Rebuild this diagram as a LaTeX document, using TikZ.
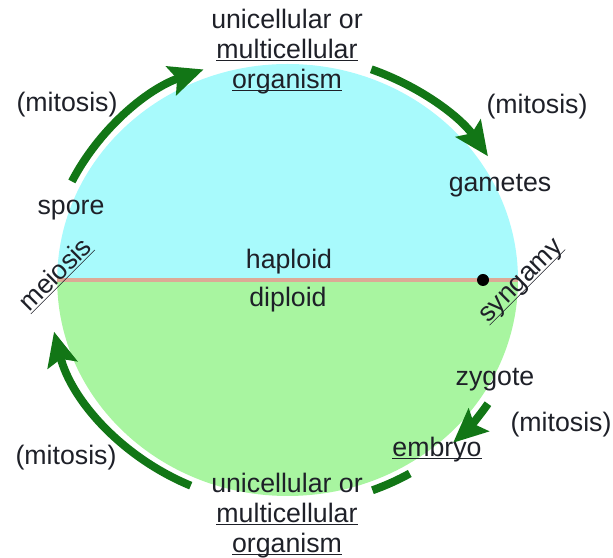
\documentclass[tikz,border=0pt]{standalone}
\usepackage{fontspec}
\setmainfont{Liberation Sans}
\usetikzlibrary{arrows.meta}
\definecolor{hapcol}{RGB}{168,250,252}
\definecolor{dipcol}{RGB}{168,245,160}
\definecolor{cyclecol}{RGB}{18,118,22}
\definecolor{linecol}{RGB}{220,170,150}
\definecolor{txtcol}{RGB}{30,32,40}
\newcommand{\ulterm}[1]{\underline{\smash{#1}}}

\begin{document}
\begin{tikzpicture}[every node/.style={font=\fontsize{19}{21.5}\selectfont, text=txtcol},
    cyc/.style={cyclecol, line width=0.2cm, -{Stealth[length=0.85cm, width=0.75cm, inset=0.15cm]}}]
    \useasboundingbox (0,0) rectangle (15.325,13.95);
    \coordinate (c) at (7.19,6.95);
    % the two halves
    \fill [hapcol] (c) ++(5.76,0) arc [start angle=0, end angle=180, x radius=5.76, y radius=5.4] -- cycle;
    \fill [dipcol] (c) ++(5.76,0) arc [start angle=0, end angle=-180, x radius=5.76, y radius=5.4] -- cycle;
    \path (c) ++(-5.76,0) coordinate (ml);
    \path (c) ++(5.76,0) coordinate (mr);
    \draw [linecol, line width=0.1cm] (ml) -- (mr);
    % arcs of the cycle
    \path (c) ++(154:6 and 5.62) coordinate (s1);
    \path (c) ++(69.6:6 and 5.62) coordinate (s2);
    \path (c) ++(326.6:6 and 5.62) coordinate (s3);
    \path (c) ++(300.6:6 and 5.62) coordinate (s4);
    \path (c) ++(246.2:6 and 5.62) coordinate (s5);
    \draw [cyc] (s1) arc [start angle=154, end angle=110.5, x radius=6, y radius=5.62];
    \draw [cyc] (s2) arc [start angle=69.6, end angle=33.4, x radius=6, y radius=5.62];
    \draw [cyc] (s3) arc [start angle=326.6, end angle=313.6, x radius=6, y radius=5.62];
    \draw [cyclecol, line width=0.2cm] (s4) arc [start angle=300.6, end angle=290.7, x radius=6, y radius=5.62];
    \draw [cyc] (s5) arc [start angle=246.2, end angle=193.3, x radius=6, y radius=5.62];
    % labels
    \node [align=center] (orgtop) at (7.175,12.7) {unicellular or\\\ulterm{multicellular}\\\ulterm{organism}};
    \node [align=center] (orgbot) at (7.175,1.1) {unicellular or\\\ulterm{multicellular}\\\ulterm{organism}};
    \node (mitTL) at (1.675,11.325) {(mitosis)};
    \node (mitTR) at (13.425,11.275) {(mitosis)};
    \node (mitBR) at (14.025,3.325) {(mitosis)};
    \node (mitBL) at (1.65,2.5) {(mitosis)};
    \node (gametes) at (12.5,9.3) {gametes};
    \node (spore) at (1.775,8.7) {spore};
    \node (haploid) at (7.225,7.4) {haploid};
    \node (diploid) at (7.2,6.45) {diploid};
    \node (zygote) at (12.375,4.45) {zygote};
    \node (embryo) at (10.925,2.5) {\ulterm{embryo}};
    \node [rotate=45, inner sep=1pt] (meiosis) at (1.56,6.91) {\ulterm{meiosis}};
    \node [rotate=45, inner sep=1pt] (syngamy) at (13.175,6.775) {\ulterm{syngamy}};
    \node [circle, fill=black, inner sep=0, minimum size=0.3cm] (syngdot) at (12.075,6.95) {};
\end{tikzpicture}
\end{document}
